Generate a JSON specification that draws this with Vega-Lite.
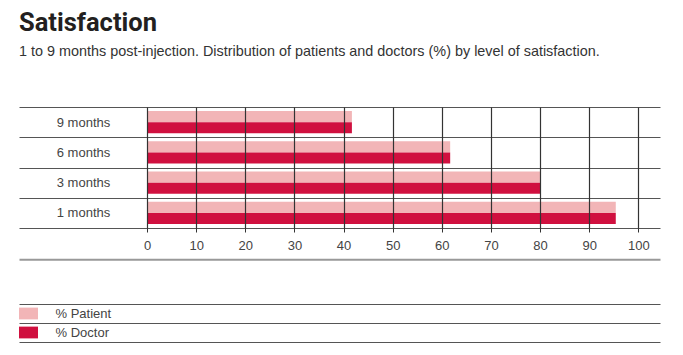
{
  "$schema": "https://vega.github.io/schema/vega-lite/v6.json",
  "background": "white",
  "padding": {"left": 19, "top": 11, "right": 20, "bottom": 5},
  "title": {
    "text": "Satisfaction",
    "subtitle": "1 to 9 months post-injection. Distribution of patients and doctors (%) by level of satisfaction.",
    "anchor": "start",
    "frame": "bounds",
    "font": "Roboto",
    "fontSize": 25.5,
    "fontWeight": "bold",
    "color": "#231f20",
    "subtitleFont": "Liberation Sans",
    "subtitleFontSize": 14.4,
    "subtitleColor": "#333333",
    "subtitlePadding": 8.5,
    "offset": 42.3
  },
  "config": {"view": {"stroke": null}, "concat": {"spacing": 6}},
  "vconcat": [
    {
      "width": 641,
      "height": 121,
      "data": {
        "values": [
          {"period": "9 months", "group": "% Patient", "value": 41.7},
          {"period": "9 months", "group": "% Doctor", "value": 41.7},
          {"period": "6 months", "group": "% Patient", "value": 61.7},
          {"period": "6 months", "group": "% Doctor", "value": 61.7},
          {"period": "3 months", "group": "% Patient", "value": 80},
          {"period": "3 months", "group": "% Doctor", "value": 80},
          {"period": "1 months", "group": "% Patient", "value": 95.4},
          {"period": "1 months", "group": "% Doctor", "value": 95.4}
        ]
      },
      "mark": {"type": "bar"},
      "encoding": {
        "y": {
          "field": "period",
          "type": "nominal",
          "sort": ["9 months", "6 months", "3 months", "1 months"],
          "scale": {"paddingInner": 0, "paddingOuter": 0},
          "axis": {
            "title": null,
            "domain": false,
            "ticks": false,
            "grid": true,
            "tickBand": "extent",
            "gridColor": "#555555",
            "gridWidth": 1.2,
            "labelAlign": "center",
            "labelPadding": -64,
            "labelFont": "Liberation Sans",
            "labelFontSize": 13,
            "labelColor": "#444444"
          }
        },
        "yOffset": {
          "field": "group",
          "type": "nominal",
          "sort": ["% Patient", "% Doctor"],
          "scale": {"paddingInner": 0, "paddingOuter": 0.35}
        },
        "x": {
          "field": "value",
          "type": "quantitative",
          "scale": {"domain": [-26.05, 104.4], "nice": false, "zero": false},
          "axis": {
            "title": null,
            "values": [0, 10, 20, 30, 40, 50, 60, 70, 80, 90, 100],
            "grid": true,
            "gridColor": "#333333",
            "gridWidth": 1.2,
            "domain": false,
            "tickSize": 4,
            "tickColor": "#333333",
            "labelPadding": 7.5,
            "labelFont": "Liberation Sans",
            "labelFontSize": 13,
            "labelColor": "#444444",
            "zindex": 1
          }
        },
        "color": {
          "field": "group",
          "type": "nominal",
          "scale": {"domain": ["% Patient", "% Doctor"], "range": ["#f2b5b7", "#d0103f"]},
          "legend": null
        }
      }
    },
    {
      "width": 641,
      "height": 38,
      "data": {"values": [{"group": "% Patient"}, {"group": "% Doctor"}]},
      "mark": {"type": "bar", "height": {"band": 0.62}},
      "encoding": {
        "y": {
          "field": "group",
          "type": "nominal",
          "sort": ["% Patient", "% Doctor"],
          "scale": {"paddingInner": 0, "paddingOuter": 0},
          "axis": {
            "title": null,
            "domain": false,
            "ticks": false,
            "grid": true,
            "tickBand": "extent",
            "gridColor": "#555555",
            "gridWidth": 1.2,
            "labelAlign": "left",
            "labelPadding": -36,
            "labelFont": "Liberation Sans",
            "labelFontSize": 13,
            "labelColor": "#444444"
          }
        },
        "x": {
          "datum": -26.05,
          "type": "quantitative",
          "scale": {"domain": [-26.05, 104.4], "nice": false, "zero": false},
          "axis": {
            "orient": "top",
            "offset": 44.8,
            "domain": true,
            "domainColor": "#999999",
            "domainWidth": 2,
            "ticks": false,
            "labels": false,
            "grid": false,
            "title": null
          }
        },
        "x2": {"datum": -22.18},
        "color": {
          "field": "group",
          "type": "nominal",
          "scale": {"domain": ["% Patient", "% Doctor"], "range": ["#f2b5b7", "#d0103f"]},
          "legend": null
        }
      }
    }
  ]
}
